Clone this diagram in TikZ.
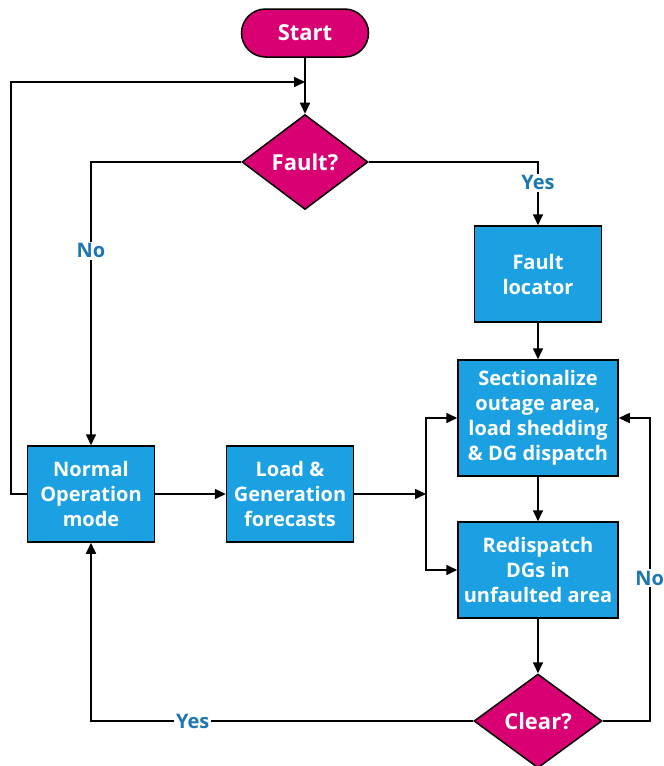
\documentclass[tikz,border=0pt]{standalone}
\usepackage{fontspec}
\setmainfont{Open Sans}
\usetikzlibrary{arrows.meta,shapes.geometric}
\definecolor{procblue}{RGB}{27,161,226}
\definecolor{mag}{RGB}{216,0,115}
\definecolor{lblblue}{RGB}{30,118,178}
\begin{document}
\begin{tikzpicture}[x=1pt,y=-1pt,
  every node/.style={inner sep=0pt},
  txt/.style={text=white,font=\bfseries\fontsize{20}{25}\selectfont,align=center},
  proc/.style={txt,draw=black,line width=1.5pt,fill=procblue,minimum width=127pt,minimum height=96pt},
  dec/.style={txt,font=\bfseries\fontsize{22}{26}\selectfont,diamond,draw=black,line width=1.5pt,fill=mag,minimum width=126pt,minimum height=95pt},
  term/.style={txt,font=\bfseries\fontsize{22}{26}\selectfont,draw=black,line width=1.5pt,fill=mag,rounded corners=24pt,minimum width=127pt,minimum height=48pt},
  lbl/.style={fill=white,text=lblblue,font=\bfseries\fontsize{20}{22}\selectfont,inner sep=2pt},
  conn/.style={line width=1.6pt,draw=black},
  arr/.style={conn,-{Triangle[length=11pt,width=10pt]}}]
\useasboundingbox (0,0) rectangle (664,766);
\node[term] (start) at (305,33) {Start};
\node[dec] (fault) at (305,162) {Fault?};
\node[proc] (locator) at (538,274) {Fault\\locator};
\node[proc,minimum width=160pt,minimum height=116pt] (sect) at (538,418) {Sectionalize\\outage area,\\load shedding\\\& DG dispatch};
\node[proc,minimum width=160pt] (redis) at (538,570) {Redispatch\\DGs in\\unfaulted area};
\node[dec,minimum width=128pt,minimum height=94pt] (clear) at (538,721) {Clear?};
\node[proc] (normal) at (91,494) {Normal\\Operation\\mode};
\node[proc] (load) at (290,494) {Load \&\\Generation\\forecasts};
\coordinate (j1) at (305,82);
\coordinate (branch) at (426,494);

\draw[arr] (start) -- (fault);
\draw[arr] (normal.west) -- ++(-16,0) |- (j1);
\draw[arr] (fault.west) -| node[lbl,pos=0.657] {No} (normal.north);
\draw[arr] (fault.east) -| node[lbl,pos=0.664] {Yes} (locator.north);
\draw[arr] (locator) -- (sect);
\draw[arr] (sect) -- (redis);
\draw[arr] (redis) -- (clear);
\draw[arr] (normal) -- (load);
\draw[arr] (load.east) -- (branch);
\draw[arr] (branch) |- (sect.west);
\draw[arr] (branch) |- (redis.west);
\draw[arr] (clear.east) -- ++(47,0) |- node[lbl,pos=0.236] {No} (sect.east);
\draw[arr] (clear.west) -| node[lbl,pos=0.367] {Yes} (normal.south);
\end{tikzpicture}
\end{document}
